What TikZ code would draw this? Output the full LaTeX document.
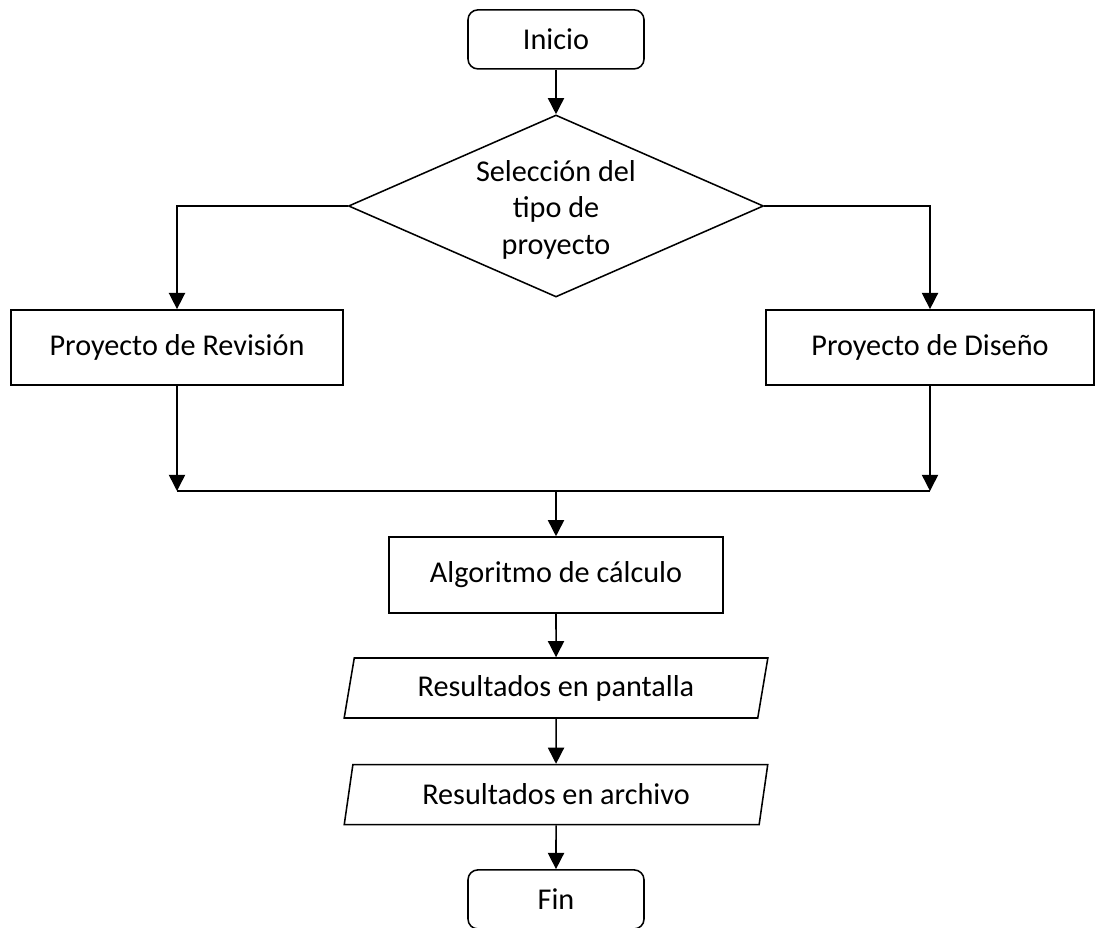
\documentclass[tikz,border=0pt]{standalone}
\usepackage{fontspec}
\setmainfont{Carlito}
\usetikzlibrary{shapes.geometric,arrows.meta}

\begin{document}
\begin{tikzpicture}[line width=1.1pt,
  >={Triangle[length=11.5pt,width=11.5pt]},
  every node/.style={font=\fontsize{21.5}{26}\selectfont},
  term/.style={draw,rounded corners=7pt,minimum width=4.4cm,minimum height=1.475cm},
  proc/.style={draw,minimum height=1.875cm},
  io/.style={draw,trapezium,trapezium left angle=75,trapezium right angle=105,
    trapezium stretches=true,minimum width=10.6cm,minimum height=1.5cm,inner sep=0pt},
  decision/.style={draw,diamond,shape aspect=2.28,minimum width=10.375cm,
    minimum height=4.55cm,inner sep=0pt,align=center}]
  \useasboundingbox (0,0) rectangle (27.375,23.175);
  \node[term] (inicio) at (13.9,22.19) {Inicio};
  \node[decision] (sel) at (13.9,18.025) {\\[-0.2cm]Selección del\\tipo de\\proyecto};
  \node[proc,minimum width=8.3cm] (rev) at (4.425,14.49) {Proyecto de Revisión};
  \node[proc,minimum width=8.2cm] (dis) at (23.25,14.49) {Proyecto de Diseño};
  \coordinate (jl) at (4.425,10.9);
  \coordinate (jm) at (13.9,10.9);
  \coordinate (jr) at (23.25,10.9);
  \node[proc,minimum width=8.35cm,minimum height=1.9cm] (alg) at (13.9,8.8) {Algoritmo de cálculo};
  \node[io] (pant) at (13.9,5.975) {Resultados en pantalla};
  \node[io] (arch) at (13.9,3.31) {Resultados en archivo};
  \node[term] (fin) at (13.9,0.69) {Fin};

  \draw[->] (inicio) -- (sel);
  \draw[->] (sel.west) -| (rev);
  \draw[->] (sel.east) -| (dis);
  \draw[->] (rev) -- (jl);
  \draw[->] (dis) -- (jr);
  \draw (jl) -- (jr);
  \draw[->] (jm) -- (alg);
  \draw[->] (alg) -- (pant);
  \draw[->] (pant) -- (arch);
  \draw[->] (arch) -- (fin);
\end{tikzpicture}
\end{document}
